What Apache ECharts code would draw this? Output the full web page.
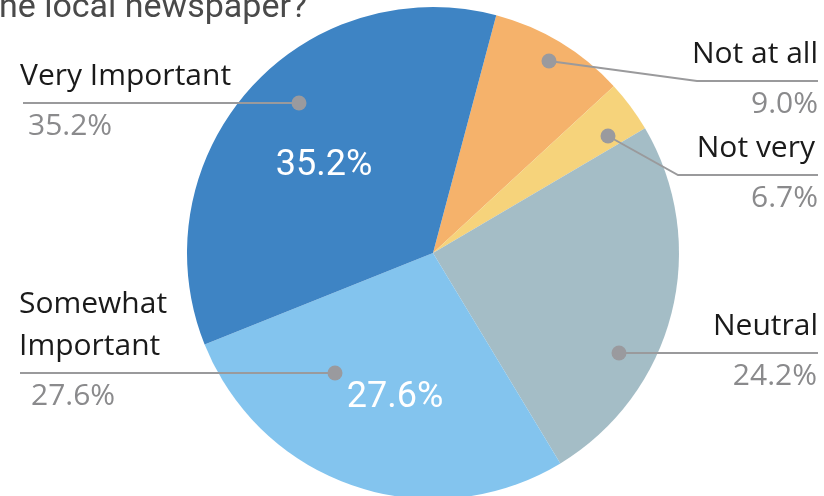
<!DOCTYPE html>
<html>
<head>
<meta charset="utf-8">
<script src="https://cdn.jsdelivr.net/npm/echarts@6/dist/echarts.min.js"></script>
<style>
  html, body { margin: 0; padding: 0; background: #fff; }
  #chart-container { width: 824px; height: 496px; }
</style>
</head>
<body>
<div id="chart-container"></div>
<script>
// 数据（顺时针，从 "Not at all" 开始）
const categories = ['Not at all', 'Not very', 'Neutral', 'Somewhat Important', 'Very Important'];
const sliceValues = [9.0, 3.4, 24.8, 27.6, 35.2];           // 扇区大小（按图中角度读取）
const percentLabels = ['9.0%', '6.7%', '24.2%', '27.6%', '35.2%']; // 图中显示的百分比
const sliceColors = ['#F5B26B', '#F6D37B', '#A4BDC6', '#83C4EE', '#3E84C4'];
const insideShown = [false, false, false, true, true];

// 标签布局
const outerLayout = [
    { align: 'right', textX: 818, pctX: 818, lineY: 81,  dot: [549, 61],  bend: [697, 81],  end: [818, 81] },
    { align: 'right', textX: 815, pctX: 818, lineY: 175, dot: [608, 136], bend: [678, 175], end: [818, 175] },
    { align: 'right', textX: 818, pctX: 817, lineY: 353, dot: [619, 353], bend: [720, 353], end: [818, 353] },
    { align: 'left',  textX: 19,  pctX: 31,  lineY: 373, dot: [335, 373], bend: [180, 373], end: [20, 373], wrap: true },
    { align: 'left',  textX: 20,  pctX: 28,  lineY: 103, dot: [299, 103], bend: [160, 103], end: [23, 103] }
];
const insideLayout = { 3: [395, 398], 4: [324, 166] };

const chartContainer = document.getElementById('chart-container');
const myChart = echarts.init(chartContainer);

const pieBase = {
    type: 'pie',
    center: [433, 253],
    radius: 246,
    startAngle: 75.1,
    clockwise: true,
    avoidLabelOverlap: false,
    animation: false,
    emphasis: { disabled: true },
    data: categories.map((name, i) => ({ name: name, value: sliceValues[i] }))
};

const option = {
    backgroundColor: '#ffffff',
    series: [
        // 扇区 + 内部标签
        Object.assign({}, pieBase, {
            z: 2,
            data: categories.map((name, i) => ({
                name: name,
                value: sliceValues[i],
                itemStyle: { color: sliceColors[i] },
                label: { show: insideShown[i] }
            })),
            label: {
                position: 'inside',
                formatter: p => percentLabels[p.dataIndex],
                color: '#ffffff',
                fontFamily: 'Roboto',
                fontSize: 36
            },
            labelLine: { show: false },
            labelLayout: function (params) {
                const pos = insideLayout[params.dataIndex];
                if (!pos) return {};
                return { x: pos[0], y: pos[1], align: 'center', verticalAlign: 'middle' };
            }
        }),
        // 类别名称 + 引导线
        Object.assign({}, pieBase, {
            z: 5,
            silent: true,
            itemStyle: { color: 'transparent' },
            label: {
                show: true,
                position: 'outside',
                formatter: p => outerLayout[p.dataIndex].wrap ? p.name.replace(' ', '\n') : p.name,
                color: '#1a1a1a',
                fontFamily: 'Open Sans',
                fontSize: 30,
                lineHeight: 42
            },
            labelLine: {
                show: true,
                smooth: false,
                lineStyle: { color: '#9a9a9c', width: 2 }
            },
            labelLayout: function (params) {
                const l = outerLayout[params.dataIndex];
                return {
                    x: l.textX,
                    y: l.lineY - 6,
                    align: l.align,
                    verticalAlign: 'bottom',
                    labelLinePoints: [l.dot, l.bend, l.end]
                };
            }
        }),
        // 百分比
        Object.assign({}, pieBase, {
            z: 5,
            silent: true,
            itemStyle: { color: 'transparent' },
            label: {
                show: true,
                position: 'outside',
                formatter: p => percentLabels[p.dataIndex],
                color: '#8a8a8c',
                fontFamily: 'Open Sans',
                fontSize: 30
            },
            labelLine: { show: false },
            labelLayout: function (params) {
                const l = outerLayout[params.dataIndex];
                return {
                    x: l.pctX,
                    y: l.lineY + 8,
                    align: l.align,
                    verticalAlign: 'top'
                };
            }
        })
    ],
    graphic: [
        {
            type: 'text',
            silent: true,
            style: {
                text: 'How important is the local newspaper?',
                x: 307,
                y: 25,
                align: 'right',
                verticalAlign: 'bottom',
                fill: '#4a4a4a',
                font: '34px Roboto'
            }
        }
    ].concat(outerLayout.map(l => ({
        type: 'circle',
        silent: true,
        z: 100,
        shape: { cx: l.dot[0], cy: l.dot[1], r: 7.5 },
        style: { fill: '#9a9a9e' }
    })))
};

myChart.setOption(option, { notMerge: true });
</script>
</body>
</html>
